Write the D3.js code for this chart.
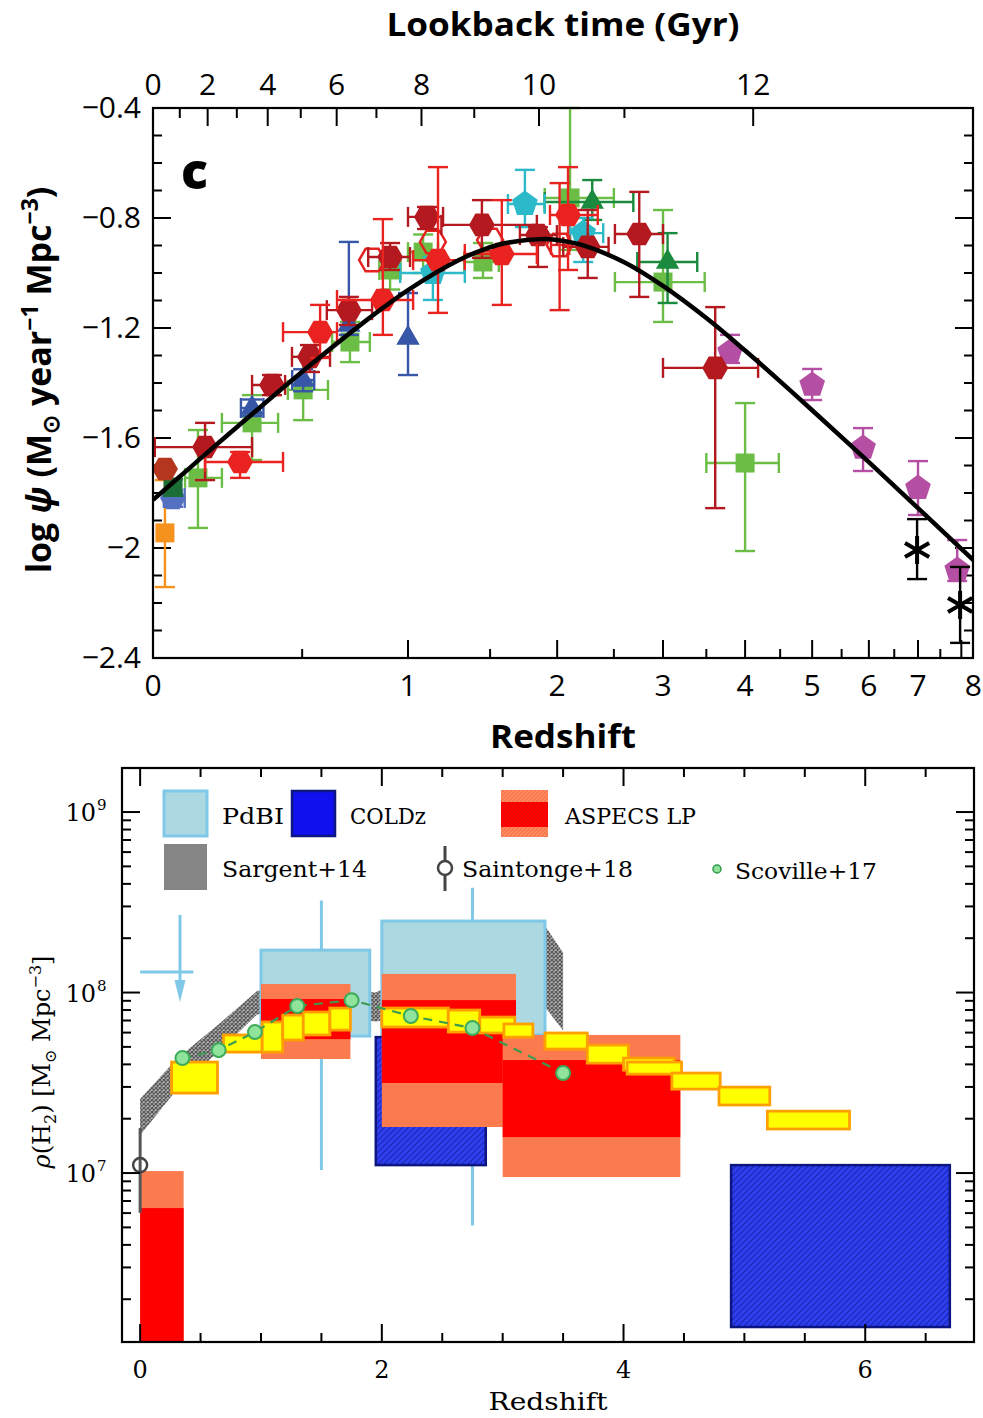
<!DOCTYPE html>
<html>
<head>
<meta charset="utf-8">
<script src="https://cdn.jsdelivr.net/npm/d3@7"></script>
<style>
  body { margin: 0; background: #fff; }
  svg { display: block; }
</style>
</head>
<body>
<svg id="chart" width="983" height="1418"></svg>
<script>
// ================= Panel c: cosmic star-formation rate density =================
// Fitted SFRD curve, sampled: [redshift, log psi]
const sfrdCurve = [
  [0, -1.825], [0.1, -1.714], [0.2, -1.613], [0.5, -1.359], [0.8, -1.164],
  [1.0, -1.062], [1.3, -0.952], [1.45, -0.916], [1.6, -0.892], [1.9, -0.876],
  [2.0, -0.880], [2.2, -0.897], [2.6, -0.961], [3.0, -1.047], [3.5, -1.164],
  [4.0, -1.282], [4.5, -1.394], [5.0, -1.499], [6.0, -1.688], [7.0, -1.855],
  [8.0, -2.003], [8.3, -2.044]
];

// Axis ticks
const zTicksMajor = [0, 1, 2, 3, 4, 5, 6, 7, 8];
const zTicksMinor = [0.5, 1.5, 2.5, 3.5, 4.5, 5.5, 6.5, 7.5];
const psiTicksMajor = [-0.4, -0.8, -1.2, -1.6, -2, -2.4];
const psiTickLabels = ["\u22120.4", "\u22120.8", "\u22121.2", "\u22121.6", "\u22122", "\u22122.4"];
const lookbackTicks = [0, 1, 2, 3, 4, 5, 6, 7, 8, 9, 10, 11, 12];
const lookbackLabels = [0, 2, 4, 6, 8, 10, 12];

// Measurements: [z, log psi, zLow, zHigh, psiLow, psiHigh]
const redHex = [
  [0.267, -1.687, 0.152, 0.424, -1.745, -1.651],
  [0.575, -1.215, 0.424, 0.649, -1.309, -1.116],
  [0.868, -1.098, 0.649, 1.028, -1.225, -0.804],
  [1.17, -0.953, 1.028, 1.334, -1.145, -0.615],
  [1.581, -0.931, 1.334, 1.839, -1.116, -0.735],
  [2.09, -0.789, 1.942, 2.35, -0.989, -0.615]
];
const darkRedHex = [
  [0.152, -1.633, 0.005, 0.309, -1.753, -1.545],
  [0.382, -1.407, 0.309, 0.432, -1.444, -1.371],
  [0.532, -1.305, 0.459, 0.618, -1.36, -1.262],
  [0.703, -1.135, 0.604, 0.814, -1.189, -1.087],
  [0.905, -0.942, 0.795, 1.011, -0.989, -0.891],
  [1.106, -0.796, 1.0, 1.2, -0.84, -0.76],
  [1.445, -0.825, 1.19, 1.839, -0.945, -0.735],
  [1.847, -0.862, 1.711, 1.998, -0.978, -0.833],
  [2.26, -0.905, 2.05, 2.45, -1.018, -0.771],
  [2.75, -0.858, 2.51, 3.0, -1.087, -0.705],
  [3.61, -1.345, 3.0, 4.18, -1.855, -1.124]
];
const brownHex = [[0.033, -1.713, null, null, null, null]];
const openRedHex = [
  [0.814, -0.953, null, null, null, null],
  [1.14, -0.887, null, null, null, null],
  [1.50, -0.880, null, null, null, null],
  [2.02, -0.898, 1.95, 2.10, -1.135, -0.673]
];
const greenSq = [
  [0.130, -1.745, 0.091, 0.206, -1.927, -1.571],
  [0.309, -1.545, 0.206, 0.405, -1.68, -1.444],
  [0.504, -1.425, 0.443, 0.609, -1.535, -1.305],
  [0.708, -1.251, 0.627, 0.803, -1.324, -1.178],
  [0.905, -0.989, 0.85, 0.96, -1.06, -0.93],
  [1.084, -0.924, 1.0, 1.17, -1.0, -0.86],
  [1.452, -0.96, 1.33, 1.56, -1.018, -0.891],
  [2.107, -0.727, 1.90, 2.50, -0.916, -0.40],
  [3.0, -1.033, 2.51, 3.48, -1.178, -0.771],
  [4.0, -1.691, 3.50, 4.48, -2.011, -1.473]
];
const darkGreenSq = [[0.056, -1.778, null, null, -1.81, -1.75]];
const darkGreenTri = [
  [2.30, -0.742, 1.90, 2.69, -0.807, -0.662],
  [3.05, -0.96, 2.73, 3.39, -1.109, -0.855]
];
const blueTri = [
  [0.309, -1.491, 0.27, 0.35, -1.52, -1.46],
  [0.504, -1.389, 0.46, 0.55, -1.43, -1.35],
  [0.703, -1.189, null, null, -1.225, -0.887],
  [1.0, -1.236, null, null, -1.371, -1.073]
];
const blueHex = [[0.056, -1.818, 0.03, 0.09, -1.85, -1.79]];
const cyanPent = [
  [1.14, -1.0, 0.958, 1.334, -1.098, -0.942],
  [1.748, -0.749, 1.624, 1.90, -0.833, -0.625],
  [2.22, -0.855, 2.107, 2.40, -0.96, -0.80]
];
const magentaPent = [
  [3.80, -1.287, null, null, -1.327, -1.225],
  [5.0, -1.407, null, null, -1.462, -1.349],
  [5.89, -1.636, null, null, -1.72, -1.564],
  [7.0, -1.782, null, null, -1.880, -1.684],
  [7.9, -2.08, null, null, -2.12, -1.971]
];
const orangeSq = [[0.033, -1.945, null, null, -2.142, -1.753]];
const blackStar = [
  [6.98, -2.007, null, null, -2.113, -1.895],
  [7.97, -2.207, null, null, -2.345, -2.069]
];

// ================= Lower panel: cosmic molecular gas density =================
// log10 rho(H2) values
const pdbiBoxes = [ // [zLow, zHigh, low, high, zCentre, barLow, barHigh]
  [1.0, 1.9, 7.759, 8.235, 1.5, 7.017, 8.51],
  [2.0, 3.35, 7.765, 8.396, 2.75, 6.71, 8.58]
];
const pdbiLimit = [0.0, 0.44, 0.33, 8.114, 8.43, 7.947]; // [zLow, zHigh, zArrow, level, top, tip]
const coldzBoxes = [ // [zLow, zHigh, low, high]
  [1.95, 2.86, 7.044, 7.753],
  [4.89, 6.70, 6.147, 7.044]
];
const aspecsBoxes = [ // [zLow, zHigh, outerLow, innerLow, innerHigh, outerHigh]
  [0.0, 0.36, 5.9, 5.9, 6.806, 7.011],
  [1.0, 1.74, 7.632, 7.742, 7.964, 8.047],
  [2.0, 3.11, 7.255, 7.499, 7.958, 8.103],
  [3.0, 4.47, 6.978, 7.199, 7.626, 7.765]
];
const sargentBand = [ // [z, low, high]
  [0.0, 7.21, 7.41], [0.3, 7.46, 7.63], [0.66, 7.68, 7.83], [0.97, 7.88, 8.01],
  [1.5, 7.88, 8.02], [1.95, 7.84, 8.00], [2.5, 7.90, 8.20], [3.35, 7.92, 8.37],
  [3.5, 7.79, 8.22]
];
const yellowBoxes = [ // [zLow, zHigh, low, high]
  [0.26, 0.64, 7.443, 7.615], [0.69, 1.01, 7.670, 7.765], [1.01, 1.18, 7.670, 7.837],
  [1.18, 1.35, 7.737, 7.875], [1.35, 1.57, 7.765, 7.892], [1.57, 1.74, 7.792, 7.914],
  [2.0, 2.55, 7.809, 7.914], [2.55, 2.81, 7.781, 7.903], [2.81, 3.10, 7.776, 7.864],
  [3.01, 3.25, 7.753, 7.826], [3.35, 3.70, 7.687, 7.776], [3.70, 4.04, 7.609, 7.709],
  [4.0, 4.42, 7.570, 7.637], [4.03, 4.48, 7.548, 7.615], [4.40, 4.80, 7.465, 7.554],
  [4.79, 5.21, 7.377, 7.476], [5.19, 5.87, 7.244, 7.343]
];
const scovilleZ = [0.35, 0.65, 0.95, 1.30, 1.75, 2.24, 2.75, 3.50];
const scovilleRho = [7.637, 7.681, 7.781, 7.925, 7.958, 7.870, 7.803, 7.554];
const saintonge = [0.0, 7.044, 6.78, 7.249]; // [z, value, low, high]
const botXTicksMajor = [0, 2, 4, 6];
const botXTicksMinor = [0.5, 1, 1.5, 2.5, 3, 3.5, 4.5, 5, 5.5, 6.5];
const rhoDecades = [7, 8, 9];

// ---------------------------------------------------------------------------
const SANS = "'Open Sans', 'Noto Sans', sans-serif";
const SERIF = "'DejaVu Serif', 'Liberation Serif', serif";
const svg = d3.select("#chart");
const rho = L => Math.pow(10, L);

// ---------- Top panel scales ----------
const T = { l: 153, r: 973, t: 108, b: 658 };
const xTop = d3.scaleLog().domain([1, 9.29]).range([T.l, T.r]);
const yTop = d3.scaleLinear().domain([-2.4, -0.4]).range([T.b, T.t]);
const X = z => xTop(1 + z);

// Lookback time -> redshift (flat LCDM, H0 = 70, Om = 0.3)
const Om = 0.3, OL = 0.7, hubbleTime = 977.8 / 70;
const A = 2 / (3 * Math.sqrt(OL)) * hubbleTime;
const q = Math.sqrt(OL / Om);
const age0 = A * Math.asinh(q);
const zFromLookback = tL => Math.pow(q / Math.sinh((age0 - tL) / A), 2 / 3) - 1;

const gTop = svg.append("g");
svg.append("defs").append("clipPath").attr("id", "clipTop")
  .append("rect").attr("x", T.l).attr("y", T.t - 4).attr("width", T.r - T.l).attr("height", T.b - T.t + 4);

const tick = (g, x1, y1, x2, y2, w = 2) =>
  g.append("line").attr("x1", x1).attr("y1", y1).attr("x2", x2).attr("y2", y2)
    .attr("stroke", "#000").attr("stroke-width", w);

// bottom redshift ticks
zTicksMajor.forEach(z => tick(gTop, X(z), T.b, X(z), T.b - 18));
zTicksMinor.forEach(z => tick(gTop, X(z), T.b, X(z), T.b - 9));
zTicksMajor.forEach(z => gTop.append("text").attr("x", X(z)).attr("y", 696)
  .attr("text-anchor", "middle").attr("font-family", SANS).attr("font-size", 30)
  .attr("dx", z === 8 ? 12 : 0).text(z));
// lookback time ticks on top
lookbackTicks.forEach(t => {
  const x = X(zFromLookback(t));
  tick(gTop, x, T.t, x, T.t + (t % 2 === 0 ? 18 : 10));
});
lookbackLabels.forEach(t => gTop.append("text").attr("x", X(zFromLookback(t))).attr("y", 95)
  .attr("text-anchor", "middle").attr("font-family", SANS).attr("font-size", 30).text(t));
// psi ticks (left and right)
d3.range(-2.3, -0.4, 0.1).forEach(v => {
  const y = yTop(v);
  tick(gTop, T.l, y, T.l + 9, y); tick(gTop, T.r, y, T.r - 9, y);
});
psiTicksMajor.forEach((v, i) => {
  const y = yTop(v);
  tick(gTop, T.l, y, T.l + 18, y); tick(gTop, T.r, y, T.r - 18, y);
  gTop.append("text").attr("x", 141).attr("y", y + 10).attr("text-anchor", "end")
    .attr("font-family", SANS).attr("font-size", 30).text(psiTickLabels[i]);
});

// Titles
gTop.append("text").attr("x", 563).attr("y", 36).attr("text-anchor", "middle")
  .attr("font-family", SANS).attr("font-weight", 700).attr("font-size", 33)
  .attr("textLength", 353).attr("lengthAdjust", "spacingAndGlyphs").text("Lookback time (Gyr)");
gTop.append("text").attr("x", 563).attr("y", 748).attr("text-anchor", "middle")
  .attr("font-family", SANS).attr("font-weight", 700).attr("font-size", 33)
  .attr("textLength", 146).attr("lengthAdjust", "spacingAndGlyphs").text("Redshift");
gTop.append("text").attr("x", 181).attr("y", 189)
  .attr("font-family", SANS).attr("font-weight", 800).attr("font-size", 50).text("c");

const yl = gTop.append("text").attr("transform", "translate(51,380) rotate(-90)")
  .attr("text-anchor", "middle").attr("font-family", SANS).attr("font-weight", 700).attr("font-size", 34);
yl.append("tspan").text("log ");
yl.append("tspan").attr("font-style", "italic").text("\u03C8");
yl.append("tspan").text(" (M");
yl.append("tspan").attr("font-size", 23).attr("dy", 8).text("\u2299");
yl.append("tspan").attr("dy", -8).text(" year");
yl.append("tspan").attr("font-size", 23).attr("dy", -13).text("\u22121");
yl.append("tspan").attr("dy", 13).text(" Mpc");
yl.append("tspan").attr("font-size", 23).attr("dy", -13).text("\u22123");
yl.append("tspan").attr("dy", 13).text(")");

// Marker shapes
function polyPath(r, n, start) {
  const p = d3.path();
  for (let k = 0; k < n; k++) {
    const a = start + k * 2 * Math.PI / n;
    k ? p.lineTo(r * Math.cos(a), r * Math.sin(a)) : p.moveTo(r * Math.cos(a), r * Math.sin(a));
  }
  p.closePath();
  return p.toString();
}
const shapes = {
  hex: polyPath(13, 6, 0),
  pent: polyPath(13.5, 5, -Math.PI / 2),
  tri: polyPath(13.5, 3, -Math.PI / 2),
  sq: "M-9.5,-9.5H9.5V9.5H-9.5Z",
  star: "M0,-14V14M-12.1,-7L12.1,7M-12.1,7L12.1,-7"
};

const gData = gTop.append("g").attr("clip-path", "url(#clipTop)");
function drawSeries(data, color, shape, opts = {}) {
  const g = gData.append("g");
  const ew = 2.4, cap = 10;
  data.forEach(d => {
    const [z, v, zl, zh, vl, vh] = d;
    const x = X(z), y = yTop(v);
    if (zl !== null) {
      const x1 = X(zl), x2 = X(zh);
      tick(g, x1, y, x2, y, ew).attr("stroke", color);
      tick(g, x1, y - cap, x1, y + cap, ew).attr("stroke", color);
      tick(g, x2, y - cap, x2, y + cap, ew).attr("stroke", color);
    }
    if (vl !== null) {
      const y1 = yTop(vl), y2 = yTop(vh);
      tick(g, x, y1, x, y2, ew).attr("stroke", color);
      tick(g, x - cap, y1, x + cap, y1, ew).attr("stroke", color);
      tick(g, x - cap, y2, x + cap, y2, ew).attr("stroke", color);
    }
  });
  g.selectAll("path.m").data(data).join("path").attr("class", "m")
    .attr("d", shapes[shape])
    .attr("transform", d => `translate(${X(d[0])},${yTop(d[1])})`)
    .attr("fill", opts.open || shape === "star" ? "none" : color)
    .attr("stroke", color)
    .attr("stroke-width", shape === "star" ? 4 : (opts.open ? 2.5 : 0));
}

drawSeries(orangeSq, "#f5921e", "sq");
drawSeries(blueHex, "#5470c1", "hex");
drawSeries(darkGreenSq, "#1b6e36", "sq");
drawSeries(greenSq, "#6bbd45", "sq");
drawSeries(blueTri, "#3856a8", "tri");
drawSeries(darkGreenTri, "#1a8a3e", "tri");
drawSeries(cyanPent, "#2cb9ca", "pent");
drawSeries(magentaPent, "#b44fa3", "pent");
drawSeries(openRedHex, "#e42320", "hex", { open: true });
drawSeries(darkRedHex, "#b3191f", "hex");
drawSeries(brownHex, "#b5361e", "hex");
drawSeries(redHex, "#ea2320", "hex");
drawSeries(blackStar, "#000", "star");

// SFRD fit
gData.append("path").datum(sfrdCurve)
  .attr("d", d3.line().x(d => X(d[0])).y(d => yTop(d[1])).curve(d3.curveCatmullRom))
  .attr("fill", "none").attr("stroke", "#000").attr("stroke-width", 4.5);

gTop.append("rect").attr("x", T.l).attr("y", T.t).attr("width", T.r - T.l).attr("height", T.b - T.t)
  .attr("fill", "none").attr("stroke", "#000").attr("stroke-width", 2.2);

// ---------- Bottom panel ----------
const B = { l: 122, r: 974, t: 768, b: 1342 };
const xBot = d3.scaleLinear().domain([-0.15, 6.9]).range([B.l, B.r]);
const yBot = d3.scaleLog().domain([rho(6.064), rho(9.244)]).range([B.b, B.t]);
const Y = L => yBot(rho(L));

const defs = svg.select("defs");
defs.append("clipPath").attr("id", "clipBot")
  .append("rect").attr("x", B.l).attr("y", B.t).attr("width", B.r - B.l).attr("height", B.b - B.t);
const pBlue = defs.append("pattern").attr("id", "hatchBlue").attr("patternUnits", "userSpaceOnUse")
  .attr("width", 6).attr("height", 6);
pBlue.append("rect").attr("width", 6).attr("height", 6).attr("fill", "#2f3ff0");
pBlue.append("path").attr("d", "M0,6L6,0M-1,1L1,-1M5,7L7,5").attr("stroke", "#1a26b0").attr("stroke-width", 1.1);
const pGray = defs.append("pattern").attr("id", "hatchGray").attr("patternUnits", "userSpaceOnUse")
  .attr("width", 4).attr("height", 4);
pGray.append("rect").attr("width", 4).attr("height", 4).attr("fill", "#b4b4b4");
pGray.append("path").attr("d", "M0,4L4,0M0,0L4,4").attr("stroke", "#555").attr("stroke-width", 1.2);
const pCoral = defs.append("pattern").attr("id", "hatchCoral").attr("patternUnits", "userSpaceOnUse")
  .attr("width", 4).attr("height", 4);
pCoral.append("rect").attr("width", 4).attr("height", 4).attr("fill", "#fb7a4e");
pCoral.append("path").attr("d", "M0,4L4,0").attr("stroke", "#ff9a78").attr("stroke-width", 0.8);
const pRed = defs.append("pattern").attr("id", "hatchRed").attr("patternUnits", "userSpaceOnUse")
  .attr("width", 4).attr("height", 4);
pRed.append("rect").attr("width", 4).attr("height", 4).attr("fill", "#ff0000");
pRed.append("path").attr("d", "M0,4L4,0").attr("stroke", "#e01010").attr("stroke-width", 0.8);

const gB = svg.append("g");
const gBD = gB.append("g").attr("clip-path", "url(#clipBot)");

// Sargent+14 band
gBD.append("path").datum(sargentBand)
  .attr("d", d3.area().x(d => xBot(d[0])).y0(d => Y(d[1])).y1(d => Y(d[2])))
  .attr("fill", "url(#hatchGray)");

// PdBI error bars, upper limit, boxes
const SKY = "#80c8e8";
pdbiBoxes.forEach(b => {
  tick(gBD, xBot(b[4]), Y(b[5]), xBot(b[4]), Y(b[6]), 3).attr("stroke", SKY);
});
tick(gBD, xBot(pdbiLimit[0]), Y(pdbiLimit[3]), xBot(pdbiLimit[1]), Y(pdbiLimit[3]), 3).attr("stroke", SKY);
tick(gBD, xBot(pdbiLimit[2]), Y(pdbiLimit[4]), xBot(pdbiLimit[2]), Y(pdbiLimit[5]) - 12, 3).attr("stroke", SKY);
gBD.append("path").attr("fill", SKY)
  .attr("d", `M${xBot(pdbiLimit[2]) - 5.5},${Y(pdbiLimit[5]) - 22}L${xBot(pdbiLimit[2]) + 5.5},${Y(pdbiLimit[5]) - 22}L${xBot(pdbiLimit[2])},${Y(pdbiLimit[5])}Z`);
gBD.selectAll("rect.pdbi").data(pdbiBoxes).join("rect").attr("class", "pdbi")
  .attr("x", d => xBot(d[0])).attr("width", d => xBot(d[1]) - xBot(d[0]))
  .attr("y", d => Y(d[3])).attr("height", d => Y(d[2]) - Y(d[3]))
  .attr("fill", "#acd8e2").attr("stroke", SKY).attr("stroke-width", 3);

// COLDz
gBD.selectAll("rect.coldz").data(coldzBoxes).join("rect").attr("class", "coldz")
  .attr("x", d => xBot(d[0])).attr("width", d => xBot(d[1]) - xBot(d[0]))
  .attr("y", d => Y(d[3])).attr("height", d => Y(d[2]) - Y(d[3]))
  .attr("fill", "url(#hatchBlue)").attr("stroke", "#0b1680").attr("stroke-width", 2.5);

// ASPECS LP
aspecsBoxes.forEach(d => {
  gBD.append("rect").attr("x", xBot(d[0])).attr("width", xBot(d[1]) - xBot(d[0]))
    .attr("y", Y(d[5])).attr("height", Y(d[2]) - Y(d[5])).attr("fill", "#fb7a4e");
  gBD.append("rect").attr("x", xBot(d[0])).attr("width", xBot(d[1]) - xBot(d[0]))
    .attr("y", Y(d[4])).attr("height", Y(d[3]) - Y(d[4])).attr("fill", "#ff0000");
});

// yellow boxes
gBD.selectAll("rect.yel").data(yellowBoxes).join("rect").attr("class", "yel")
  .attr("x", d => xBot(d[0])).attr("width", d => xBot(d[1]) - xBot(d[0]))
  .attr("y", d => Y(d[3])).attr("height", d => Y(d[2]) - Y(d[3]))
  .attr("fill", "#ffff00").attr("stroke", "#ffa000").attr("stroke-width", 2.8);

// Scoville+17
const scov = scovilleZ.map((z, i) => [z, scovilleRho[i]]);
gBD.append("path").datum(scov)
  .attr("d", d3.line().x(d => xBot(d[0])).y(d => Y(d[1])))
  .attr("fill", "none").attr("stroke", "#3d9a50").attr("stroke-width", 2.2).attr("stroke-dasharray", "9,7");
gBD.selectAll("circle.sc").data(scov).join("circle").attr("class", "sc")
  .attr("cx", d => xBot(d[0])).attr("cy", d => Y(d[1])).attr("r", 7)
  .attr("fill", "#8fe39a").attr("stroke", "#3daa5a").attr("stroke-width", 2);

// Saintonge+18
tick(gBD, xBot(saintonge[0]), Y(saintonge[2]), xBot(saintonge[0]), Y(saintonge[3]), 3).attr("stroke", "#555");
gBD.append("circle").attr("cx", xBot(saintonge[0])).attr("cy", Y(saintonge[1])).attr("r", 7)
  .attr("fill", "none").attr("stroke", "#444").attr("stroke-width", 2.5);

// Legend
const LEG = { fs: 23 };
const legText = (x, y, s, len) => gB.append("text").attr("x", x).attr("y", y)
  .attr("font-family", SERIF).attr("font-size", LEG.fs)
  .attr("textLength", len).attr("lengthAdjust", "spacingAndGlyphs").text(s);
gB.append("rect").attr("x", 164).attr("y", 791).attr("width", 43).attr("height", 45)
  .attr("fill", "#acd8e2").attr("stroke", SKY).attr("stroke-width", 3);
legText(222, 824, "PdBI", 62);
gB.append("rect").attr("x", 292).attr("y", 791).attr("width", 43).attr("height", 45)
  .attr("fill", "#1010ee").attr("stroke", "#0b1680").attr("stroke-width", 2.5);
legText(350, 824, "COLDz", 76);
gB.append("rect").attr("x", 501).attr("y", 790).attr("width", 47).attr("height", 47).attr("fill", "url(#hatchCoral)");
gB.append("rect").attr("x", 501).attr("y", 802).attr("width", 47).attr("height", 25).attr("fill", "url(#hatchRed)");
legText(565, 824, "ASPECS LP", 131);
gB.append("rect").attr("x", 164).attr("y", 844).attr("width", 43).attr("height", 46).attr("fill", "#858585");
legText(222, 877, "Sargent+14", 145);
tick(gB, 445, 846, 445, 891, 3).attr("stroke", "#444");
gB.append("circle").attr("cx", 445).attr("cy", 868).attr("r", 7).attr("fill", "#fff").attr("stroke", "#444").attr("stroke-width", 2.5);
legText(462, 877, "Saintonge+18", 171);
gB.append("circle").attr("cx", 717).attr("cy", 869).attr("r", 4).attr("fill", "#8fe39a").attr("stroke", "#2e9a4a").attr("stroke-width", 1.5);
legText(735, 879, "Scoville+17", 142);

// Frame and ticks
gB.append("rect").attr("x", B.l).attr("y", B.t).attr("width", B.r - B.l).attr("height", B.b - B.t)
  .attr("fill", "none").attr("stroke", "#000").attr("stroke-width", 2.2);
botXTicksMajor.forEach(z => {
  const x = xBot(z);
  tick(gB, x, B.b, x, B.b - 18); tick(gB, x, B.t, x, B.t + 18);
  gB.append("text").attr("x", x).attr("y", 1378).attr("text-anchor", "middle")
    .attr("font-family", SERIF).attr("font-size", 24).text(z);
});
botXTicksMinor.forEach(z => {
  const x = xBot(z);
  tick(gB, x, B.b, x, B.b - 9); tick(gB, x, B.t, x, B.t + 9);
});
[6, 7, 8, 9].forEach(dec => {
  d3.range(1, 10).forEach(m => {
    const val = m * Math.pow(10, dec);
    if (val < yBot.domain()[0] || val > yBot.domain()[1]) return;
    const y = yBot(val), len = m === 1 ? 18 : 9;
    tick(gB, B.l, y, B.l + len, y); tick(gB, B.r, y, B.r - len, y);
  });
});
rhoDecades.forEach(dec => {
  const y = Y(dec);
  gB.append("text").attr("x", 96).attr("y", y + 9).attr("text-anchor", "end")
    .attr("font-family", SERIF).attr("font-size", 24).text("10");
  gB.append("text").attr("x", 97).attr("y", y - 2).attr("font-family", SERIF).attr("font-size", 15).text(dec);
});
gB.append("text").attr("x", 548).attr("y", 1410).attr("text-anchor", "middle")
  .attr("font-family", SERIF).attr("font-size", 25).attr("textLength", 119)
  .attr("lengthAdjust", "spacingAndGlyphs").text("Redshift");
const yl2 = gB.append("text").attr("transform", "translate(50,1062) rotate(-90)")
  .attr("text-anchor", "middle").attr("font-family", SERIF).attr("font-size", 24);
yl2.append("tspan").attr("font-style", "italic").text("\u03C1");
yl2.append("tspan").text("(H");
yl2.append("tspan").attr("font-size", 16).attr("dy", 6).text("2");
yl2.append("tspan").attr("dy", -6).text(")  [M");
yl2.append("tspan").attr("font-size", 16).attr("dy", 6).text("\u2299");
yl2.append("tspan").attr("dy", -6).text(" Mpc");
yl2.append("tspan").attr("font-size", 16).attr("dy", -9).text("\u22123");
yl2.append("tspan").attr("dy", 9).text("]");
</script>
</body>
</html>
